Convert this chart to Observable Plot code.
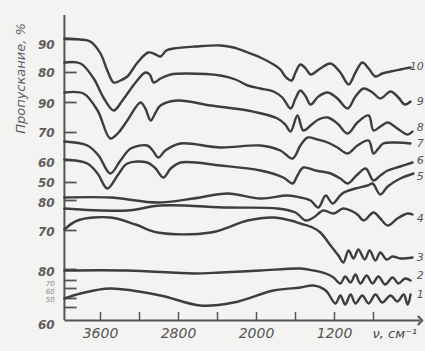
<!DOCTYPE html>
<html>
<head>
<meta charset="utf-8">
<script src="https://cdn.jsdelivr.net/npm/d3@7"></script>
<script src="https://cdn.jsdelivr.net/npm/@observablehq/plot@0.6"></script>
<style>
  html, body { margin: 0; padding: 0; background: #f3f3f1; }
  svg { display: block; }
</style>
</head>
<body>
<div id="chart"></div>
<script>
// Wavenumber (cm^-1) vs stacked transmittance level (chart units above the baseline)
const curve1 = [[3970,22],[3805,27],[3500,32],[2985,25],[2575,15],[2235,18],[1825,30],[1550,33],[1415,35],[1290,30],[1190,17],[1140,25],[1090,16],[1035,26],[985,17],[915,25],[850,17],[780,26],[710,18],[625,25],[555,19],[490,26],[450,16],[420,26]];
const curve2 = [[3970,50],[3325,50],[2645,47],[2370,48],[1960,50],[1550,52],[1415,50],[1290,47],[1210,43],[1140,37],[1090,44],[1035,38],[985,46],[935,37],[870,45],[810,37],[750,44],[680,36],[605,43],[545,37],[475,42],[420,40]];
const curve3 = [[3970,91],[3835,100],[3500,103],[3240,96],[3015,88],[2470,88],[2090,100],[1825,103],[1650,100],[1550,97],[1425,93],[1345,88],[1240,75],[1160,65],[1110,58],[1055,70],[1005,62],[955,71],[890,61],[840,70],[780,60],[730,68],[665,61],[605,64],[525,62],[400,63]];
const curve4 = [[3970,112],[3325,110],[2985,115],[2295,113],[1785,112],[1600,108],[1495,100],[1415,103],[1315,110],[1210,107],[1110,112],[1015,109],[965,106],[900,100],[800,108],[730,102],[655,95],[555,102],[450,107],[400,106]];
const curve5 = [[3970,123],[3500,123],[3015,118],[2645,122],[2295,127],[1960,122],[1680,125],[1550,123],[1445,120],[1365,113],[1290,125],[1220,117],[1120,127],[985,132],[860,135],[810,137],[730,126],[655,134],[525,142],[390,147]];
const curve6 = [[3970,161],[3735,157],[3630,147],[3530,132],[3425,145],[3325,157],[3120,158],[3035,152],[2955,143],[2880,152],[2780,158],[2370,155],[1960,150],[1725,143],[1630,137],[1580,145],[1520,153],[1395,150],[1240,147],[1140,142],[1065,137],[975,145],[880,152],[800,140],[730,145],[655,150],[525,154],[400,158]];
const curve7 = [[3970,179],[3735,175],[3620,165],[3500,147],[3395,160],[3290,172],[3120,175],[3065,170],[3005,163],[2935,170],[2780,177],[2370,173],[1960,175],[1755,170],[1630,162],[1550,175],[1475,183],[1375,181],[1270,178],[1170,173],[1065,167],[965,175],[850,180],[800,167],[750,172],[700,177],[575,178],[420,177]];
const curve8 = [[3970,228],[3775,227],[3630,210],[3500,182],[3415,188],[3325,200],[3190,218],[3140,212],[3085,200],[3035,208],[2985,215],[2810,220],[2470,215],[2090,210],[1785,202],[1705,196],[1650,189],[1580,205],[1520,190],[1445,195],[1365,201],[1270,203],[1170,197],[1065,187],[965,198],[850,205],[800,190],[730,194],[655,198],[555,192],[450,186],[400,189]];
const curve9 = [[3970,258],[3805,257],[3670,242],[3570,223],[3465,210],[3375,220],[3240,238],[3140,248],[3095,246],[3055,238],[2985,242],[2880,246],[2710,247],[2370,245],[2215,241],[2090,235],[1960,232],[1825,229],[1735,223],[1650,212],[1600,222],[1550,230],[1495,224],[1445,216],[1365,224],[1270,228],[1170,222],[1065,212],[985,224],[900,232],[810,228],[730,222],[625,229],[545,223],[480,216],[420,219]];
const curve10 = [[3970,282],[3805,281],[3705,279],[3600,267],[3530,250],[3465,238],[3395,240],[3325,244],[3220,258],[3110,268],[3035,266],[2985,264],[2925,270],[2850,272],[2625,274],[2370,275],[2235,273],[2090,268],[1960,263],[1825,256],[1755,251],[1705,244],[1640,240],[1600,248],[1550,256],[1495,252],[1445,246],[1345,252],[1240,257],[1140,248],[1055,236],[985,248],[915,258],[850,252],[780,244],[710,247],[625,249],[525,251],[420,253]];

const curveIds = ["1","2","3","4","5","6","7","8","9","10"];
const curveLabelLevels = [26,45,63,102,144,160,177,193,219,254];

const xTicks = [3600,3200,2800,2400,2000,1600,1200,800];
const xTickLabels = ["3600","2800","2000","1200"];
const yTicks = [281,248,218,188,160,138,120,90,51,40,32,22,13];
const yLabelLevels = [275,247,216,187,157,137,117,88,48,-5];
const yLabelTexts = ["90","80","90","70","60","50","80","70","80","60"];
const ySmallLevels = [37,29,21];
const ySmallTexts = ["70","60","50"];

const allCurves = [curve1,curve2,curve3,curve4,curve5,curve6,curve7,curve8,curve9,curve10];
const rows = allCurves.flatMap((c, i) => c.map(([x, y]) => ({id: curveIds[i], x, y})));
const labels = curveIds.map((id, i) => ({id, y: curveLabelLevels[i]}));
const yLabs = yLabelTexts.map((t, i) => ({t, y: yLabelLevels[i]}));
const ySmall = ySmallTexts.map((t, i) => ({t, y: ySmallLevels[i]}));

const ink = "#3d3d3d";
const font = "DejaVu Sans";

const chart = Plot.plot({
  width: 425,
  height: 351,
  marginLeft: 61,
  marginRight: 13,
  marginTop: 15,
  marginBottom: 31,
  style: {background: "#f3f3f1", fontFamily: font},
  x: {domain: [4000, 400], axis: null},
  y: {domain: [0, 305], axis: null},
  marks: [
    // axes
    Plot.ruleX([3970], {y1: 0, y2: 305, stroke: "#555", strokeWidth: 2}),
    Plot.link([0], {x1: 3970, x2: 320, y1: 0, y2: 0, stroke: "#555", strokeWidth: 2, markerEnd: "arrow"}),
    Plot.ruleX(xTicks, {x: d => d, y1: 0, y2: 8, stroke: "#555", strokeWidth: 1.5}),
    Plot.ruleY(yTicks, {y: d => d, x1: 3970, x2: 3840, stroke: "#555", strokeWidth: 1.8}),
    // curves
    Plot.line(rows, {x: "x", y: "y", z: "id", curve: "catmull-rom", stroke: ink, strokeWidth: 2.4}),
    // curve numbers
    Plot.text(labels, {x: 285, y: "y", text: "id", textAnchor: "end", fontSize: 11, fontStyle: "italic", fill: "#555"}),
    // y-axis labels
    Plot.text(yLabs, {x: 4070, y: "y", text: "t", textAnchor: "end", fontSize: 12, fontStyle: "italic", fontWeight: "bold", fill: "#5e5e5e"}),
    Plot.text(ySmall, {x: 4070, y: "y", text: "t", textAnchor: "end", fontSize: 7, fontStyle: "italic", fill: "#888"}),
    // x-axis labels
    Plot.text(xTickLabels, {x: d => +d, y: -13, text: d => d, fontSize: 14, fontStyle: "italic", fill: "#555", letterSpacing: 1}),
    Plot.text(["ν, см⁻¹"], {x: 810, y: -13, text: d => d, textAnchor: "start", fontSize: 13, fontStyle: "italic", fill: "#444"}),
    // y title
    Plot.text(["Пропускание, %"], {x: 4420, y: 242, text: d => d, rotate: -90, fontSize: 13, fontStyle: "italic", fill: "#5e5e5e"})
  ]
});
document.getElementById("chart").appendChild(chart);
</script>
</body>
</html>
